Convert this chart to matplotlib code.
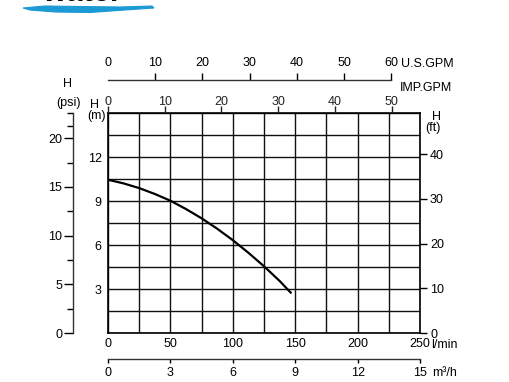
import matplotlib
matplotlib.use('Agg')
import matplotlib.pyplot as plt
from matplotlib.patches import Polygon
import numpy as np

plt.rcParams['font.family'] = ['Liberation Sans', 'DejaVu Sans']

# ---- data ----
flow_lpm = [0, 12.5, 25, 37.5, 50, 62.5, 75, 87.5, 100, 112.5, 125, 137.5, 147]
head_m = [10.45, 10.2, 9.88, 9.48, 9.02, 8.45, 7.82, 7.11, 6.33, 5.47, 4.55, 3.55, 2.7]

lpm_ticks = [0, 50, 100, 150, 200, 250]
m_ticks = [3, 6, 9, 12]
psi_ticks = [0, 5, 10, 15, 20]
psi_minor = [2.5, 7.5, 12.5, 17.5, 21.3, 22.6]
ft_ticks = [0, 10, 20, 30, 40]
imp_ticks = [0, 10, 20, 30, 40, 50]
us_ticks = [0, 10, 20, 30, 40, 50, 60]
m3h_ticks = [0, 3, 6, 9, 12, 15]

LPM_MAX = 250
M_MAX = 15
PSI_MAX = 22.6
LPM_PER_US = 3.785
LPM_PER_IMP = 4.546
FT_PER_M = 3.2808
LPM_PER_M3H = 1000 / 60

FS = 9
W, H = 510, 382

fig = plt.figure(figsize=(W / 100, H / 100), dpi=100)
ax = fig.add_axes([108 / W, 49 / H, 312 / W, 220 / H])
ax.set_xlim(0, LPM_MAX)
ax.set_ylim(0, M_MAX)
ax.set_xticks(lpm_ticks)
ax.set_xticks(np.arange(0, LPM_MAX + 1, 25), minor=True)
ax.set_yticks(m_ticks)
ax.set_yticks(np.arange(0, M_MAX + 0.01, 1.5), minor=True)
ax.grid(which='both', color='#111111', lw=1.0)
ax.tick_params(which='both', length=0)
ax.tick_params(axis='x', pad=3.5, labelsize=FS)
ax.tick_params(axis='y', pad=4.5, labelsize=FS)
for s in ax.spines.values():
    s.set_linewidth(1.2)
ax.plot(flow_lpm, head_m, color='black', lw=1.6, solid_capstyle='butt', zorder=5)


def clean(a, keep):
    a.patch.set_visible(False)
    for k, s in a.spines.items():
        s.set_visible(k == keep)
        s.set_linewidth(1.0)
        s.set_color('#333333')


# IMP.GPM on the top frame
ax_imp = ax.twiny()
clean(ax_imp, 'top')
ax_imp.spines['top'].set_visible(False)
ax_imp.set_xlim(0, LPM_MAX / LPM_PER_IMP)
ax_imp.set_xticks(imp_ticks)
ax_imp.tick_params(axis='x', direction='out', length=4.8, width=1.0, pad=-1, labelsize=FS, colors='#222222')

# U.S.GPM separate line above
ax_us = ax.twiny()
clean(ax_us, 'top')
ax_us.set_xlim(0, LPM_MAX / LPM_PER_US)
ax_us.spines['top'].set_position(('outward', 23.8))
ax_us.spines['top'].set_bounds(0, 60)
ax_us.set_xticks(us_ticks)
ax_us.tick_params(axis='x', direction='out', length=4.8, width=1.0, pad=2.9, labelsize=FS)
ax_us.xaxis.get_major_ticks()[0].tick2line.set_visible(False)

# m3/h separate line below
ax_m3 = ax.twiny()
clean(ax_m3, 'bottom')
ax_m3.xaxis.set_ticks_position('bottom')
ax_m3.xaxis.set_label_position('bottom')
ax_m3.set_xlim(0, LPM_MAX / LPM_PER_M3H)
ax_m3.spines['bottom'].set_position(('outward', 18.9))
ax_m3.set_xticks(m3h_ticks)
ax_m3.tick_params(axis='x', direction='out', length=3.2, width=1.0, pad=2.2, labelsize=FS)

# psi on the left
ax_psi = ax.twinx()
clean(ax_psi, 'left')
ax_psi.yaxis.set_ticks_position('left')
ax_psi.yaxis.set_label_position('left')
ax_psi.set_ylim(0, PSI_MAX)
ax_psi.spines['left'].set_position(('outward', 25.2))
ax_psi.set_yticks(psi_ticks)
ax_psi.set_yticks(psi_minor, minor=True)
ax_psi.tick_params(axis='y', which='major', direction='out', length=6.5, width=1.0, pad=1.2, labelsize=FS)
ax_psi.tick_params(axis='y', which='minor', direction='out', length=4.3, width=1.0)

# ft on the right
ax_ft = ax.twinx()
clean(ax_ft, 'right')
ax_ft.spines['right'].set_visible(False)
ax_ft.set_ylim(0, M_MAX * FT_PER_M)
ax_ft.set_yticks(ft_ticks)
ax_ft.tick_params(axis='y', direction='out', length=4.8, width=1.0, pad=2.4, labelsize=FS)


def t(x, y, s, **kw):
    fig.text(x / W, 1 - y / H, s, fontsize=FS, **kw)


t(68, 87.3, 'H', ha='center', va='baseline')
t(69, 106, '(psi)', ha='center', va='baseline')
t(95, 108, 'H', ha='center', va='baseline')
t(96.5, 119.5, '(m)', ha='center', va='baseline')
t(436.5, 120, 'H', ha='center', va='baseline')
t(433, 131.5, '(ft)', ha='center', va='baseline')
t(401.5, 66.7, 'U.S.GPM', ha='left', va='baseline')
t(400, 90.7, 'IMP.GPM', ha='left', va='baseline')
t(431, 348, 'l/min', ha='left', va='baseline')
t(432, 376.5, 'm³/h', ha='left', va='baseline')

# logo fragment at the top
fig.text(42 / W, 1 - 1.0 / H, 'water', fontsize=22, fontweight='bold', va='baseline', ha='left')
stroke = [(23, 8), (45, 6), (80, 6.5), (120, 7), (152, 6), (154, 8), (125, 10), (90, 12.5), (55, 12), (30, 10)]
stroke_fig = [(x / W, 1 - y / H) for x, y in stroke]
fig.add_artist(Polygon(stroke_fig, closed=True, transform=fig.transFigure,
                       facecolor='#1b9ad6', edgecolor='#1b9ad6', lw=0.8))

fig.savefig('out.png', dpi=100)
